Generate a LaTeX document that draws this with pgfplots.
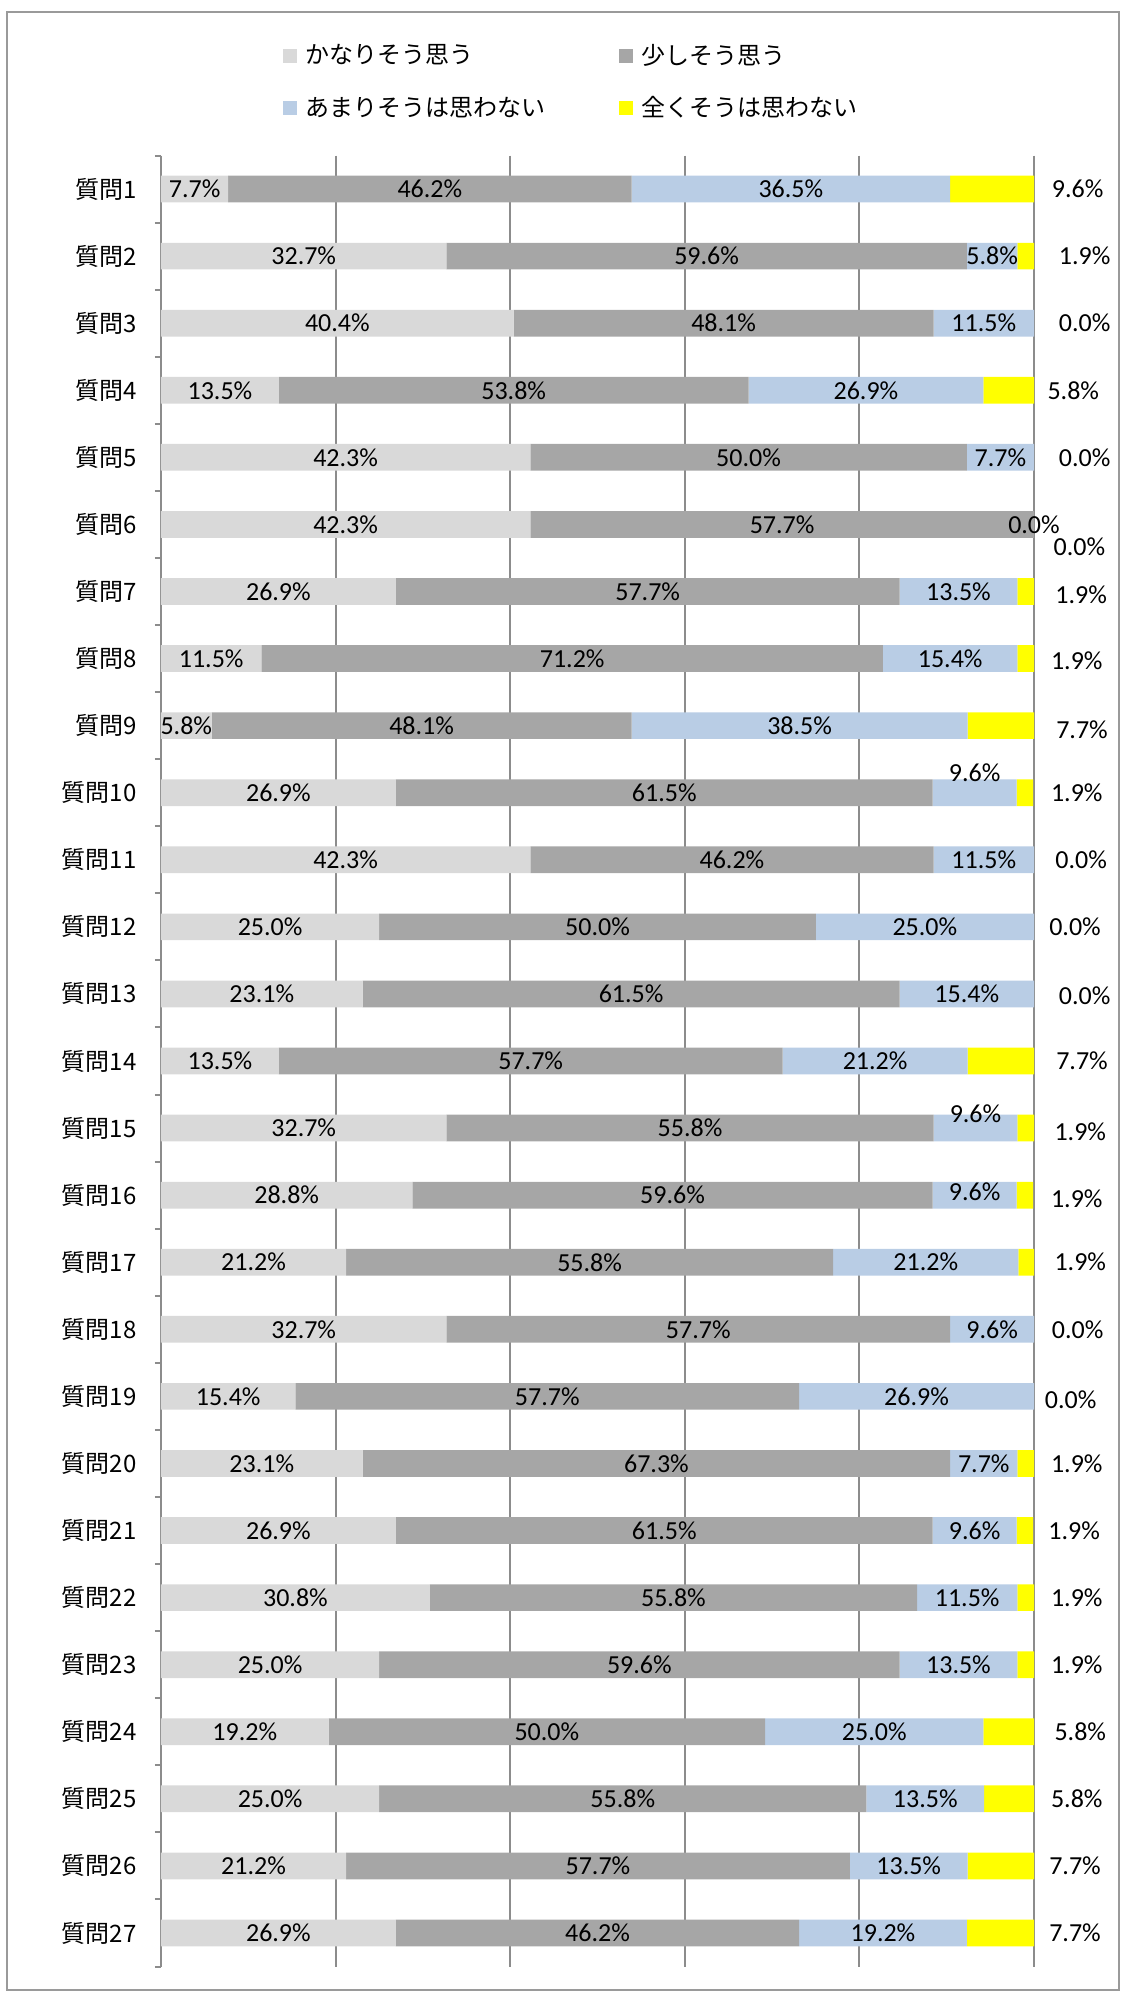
\documentclass[border=0pt]{standalone}
\usepackage{fontspec}
\setmainfont{Carlito}
\newfontfamily\jp{Noto Sans CJK JP}
\usepackage{pgfplots}
\pgfplotsset{compat=1.18}
\usepackage{pgfplotstable}
\definecolor{cA}{HTML}{D9D9D9}
\definecolor{cB}{HTML}{A6A6A6}
\definecolor{cC}{HTML}{B9CDE5}
\definecolor{cD}{HTML}{FFFF00}
\definecolor{gridgray}{HTML}{8C8C8C}
\definecolor{framegray}{HTML}{9A9A9A}

\pgfplotstableread{
q a b c d dyc xd dyd
1 7.7 46.2 36.5 9.6 0 105.0 0
2 32.7 59.6 5.8 1.9 0 105.8 0
3 40.4 48.1 11.5 0.0 0 105.8 0
4 13.5 53.8 26.9 5.8 0 104.5 0
5 42.3 50.0 7.7 0.0 0 105.8 0
6 42.3 57.7 0.0 0.0 0 105.2 0.33
7 26.9 57.7 13.5 1.9 0 105.4 0.05
8 11.5 71.2 15.4 1.9 0 104.9 0.03
9 5.8 48.1 38.5 7.7 0 105.5 0.06
10 26.9 61.5 9.6 1.9 -0.3 104.9 0
11 42.3 46.2 11.5 0.0 0 105.4 0
12 25.0 50.0 25.0 0.0 0 104.7 0
13 23.1 61.5 15.4 0.0 0 105.8 0.03
14 13.5 57.7 21.2 7.7 0 105.5 0
15 32.7 55.8 9.6 1.9 -0.21 105.3 0.05
16 28.8 59.6 9.6 1.9 -0.05 104.9 0.06
17 21.2 55.8 21.2 1.9 0 105.3 0
18 32.7 57.7 9.6 0.0 0 105.0 0
19 15.4 57.7 26.9 0.0 0 104.2 0.05
20 23.1 67.3 7.7 1.9 0 104.9 0
21 26.9 61.5 9.6 1.9 0 104.6 0
22 30.8 55.8 11.5 1.9 0 104.9 0
23 25.0 59.6 13.5 1.9 0 104.9 0
24 19.2 50.0 25.0 5.8 0 105.3 0
25 25.0 55.8 13.5 5.8 0 104.9 0
26 21.2 57.7 13.5 7.7 0 104.7 0
27 26.9 46.2 19.2 7.7 0 104.7 0
}\data

\pgfplotsset{
  common/.style={
    scale only axis, width=436.5pt, height=905.5pt,
    xmin=0, xmax=100, ymin=0.5, ymax=27.5, y dir=reverse,
  },
  lab/.style={
    draw=none, mark=none,
    nodes near coords={\pgfmathprintnumber[fixed,fixed zerofill,precision=1,assume math mode=true]{\pgfplotspointmeta}\%},
    every node near coord/.style={anchor=center, inner sep=0pt, font=\fontsize{13}{15}\selectfont, text=black},
  },
}

\begin{document}
\begin{tikzpicture}
\useasboundingbox (-80.5pt,-17.75pt) rectangle (481.5pt,983.25pt);
\draw[framegray, line width=1pt] (-77pt,-11.75pt) rectangle (479pt,977.25pt);
\begin{axis}[
  common,
  xbar stacked, bar width=13.35pt,
  xtick={20,40,60,80,100}, xticklabels={},
  xmajorgrids, major grid style={gridgray, line width=1pt},
  ytick={1,...,27},
  yticklabels={質問1,質問2,質問3,質問4,質問5,質問6,質問7,質問8,質問9,質問10,質問11,質問12,質問13,質問14,質問15,質問16,質問17,質問18,質問19,質問20,質問21,質問22,質問23,質問24,質問25,質問26,質問27},
  yticklabel style={font=\jp\fontsize{12}{14}\selectfont, inner sep=0pt, xshift=-12pt},
  minor ytick={0.5,1.5,...,27.5},
  major tick length=0pt, minor tick length=3pt, tick align=outside,
  minor tick style={gridgray, line width=1pt},
  axis lines*=left,
  x axis line style={draw=none},
  y axis line style={-, draw=gridgray, line width=1pt},
  legend columns=2,
  legend cell align=left,
  legend image code/.code={\fill[#1,draw=none] (0pt,-3.5pt) rectangle (7pt,3.5pt);},
  legend style={draw=none, fill=none, inner sep=0pt, at={(axis description cs:0.1397,1)}, anchor=south west, yshift=17.75pt,
    font=\jp\fontsize{12}{14}\selectfont, column sep=4pt, row sep=14.5pt,
    nodes={inner sep=0pt},
    /tikz/every even column/.append style={column sep=37pt}},
]
\addplot[fill=cA, draw=none] table[x=a, y=q] {\data};
\addplot[fill=cB, draw=none] table[x=b, y=q] {\data};
\addplot[fill=cC, draw=none] table[x=c, y=q] {\data};
\addplot[fill=cD, draw=none] table[x=d, y=q] {\data};
\legend{かなりそう思う,少しそう思う,あまりそうは思わない,全くそうは思わない}
\end{axis}
\begin{axis}[common, hide axis, clip=false]
\addplot[lab, point meta=\thisrow{a}] table[x expr=\thisrow{a}/2, y=q] {\data};
\addplot[lab, point meta=\thisrow{b}] table[x expr=\thisrow{a}+\thisrow{b}/2, y=q] {\data};
\addplot[lab, point meta=\thisrow{c}] table[x expr=\thisrow{a}+\thisrow{b}+\thisrow{c}/2, y expr=\thisrow{q}+\thisrow{dyc}] {\data};
\addplot[lab, point meta=\thisrow{d}] table[x=xd, y expr=\thisrow{q}+\thisrow{dyd}] {\data};
\end{axis}
\end{tikzpicture}
\end{document}
